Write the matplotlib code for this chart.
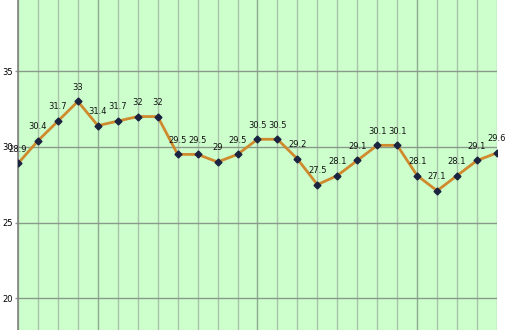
import matplotlib
matplotlib.use("Agg")
import matplotlib.pyplot as plt
import numpy as np

values = [28.9, 30.4, 31.7, 33, 31.4, 31.7, 32, 32, 29.5, 29.5, 29, 29.5,
          30.5, 30.5, 29.2, 27.5, 28.1, 29.1, 30.1, 30.1, 28.1, 27.1, 28.1, 29.1, 29.6]
labels = ["28.9", "30.4", "31.7", "33", "31.4", "31.7", "32", "32", "29.5", "29.5", "29", "29.5",
          "30.5", "30.5", "29.2", "27.5", "28.1", "29.1", "30.1", "30.1", "28.1", "27.1", "28.1", "29.1", "29.6"]
yticks = [20, 25, 30, 35]

plt.rcParams['font.family'] = ['Liberation Sans Narrow', 'DejaVu Sans']

fig = plt.figure(figsize=(5.1, 3.3), dpi=100)
W, H = 510, 330
ax = fig.add_axes([18 / W, 0, (497 - 18) / W, 1])
ax.set_facecolor('#CCFFCC')

x = np.arange(len(values))
ax.set_xlim(0, len(values) - 1)
ax.set_ylim(17.9, 39.7)

for i in x:
    c = '#8FA88F' if i % 8 == 4 else '#A9C2A9'
    ax.axvline(i, color=c, lw=1.0, zorder=1)
for yv in yticks:
    ax.axhline(yv, color='#8A9A8A', lw=1.0, zorder=1)

ax.plot(x, values, color='#D08A2E', lw=2.0, zorder=3)
ax.plot(x, values, ls='none', marker='D', ms=3.5, color='#1A2440', zorder=4)

for xi, v, lab in zip(x, values, labels):
    ax.annotate(lab, (xi, v), xytext=(0, 7), textcoords='offset points',
                ha='center', va='bottom', fontsize=6, color='#111111', zorder=5)

ax.set_yticks(yticks)
ax.set_yticklabels([str(t) for t in yticks], fontsize=6)
ax.set_xticks([])
ax.tick_params(axis='y', length=2, width=1, color='#8A9A8A', pad=2)
for s in ['top', 'right', 'bottom']:
    ax.spines[s].set_visible(False)
ax.spines['left'].set_color('#808080')
ax.spines['left'].set_linewidth(1.2)

fig.savefig('out.png', dpi=100)
